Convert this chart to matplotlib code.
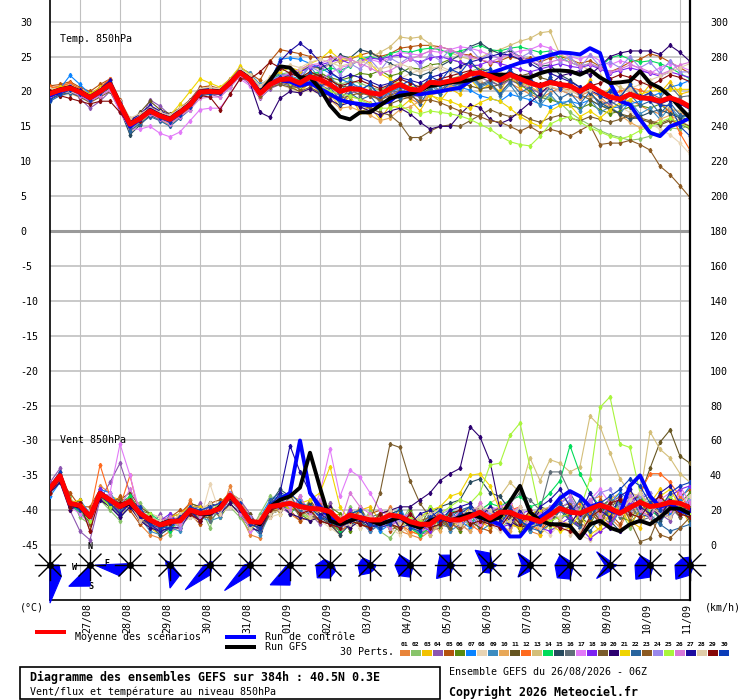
import numpy as np
import matplotlib.pyplot as plt
from matplotlib.patches import Polygon, Rectangle
from matplotlib.transforms import ScaledTranslation, blended_transform_factory

plt.rcParams['font.family'] = ['DejaVu Sans Mono']

# GEFS run 26/08/2026 06Z, one value every 6h up to 384h
hours = list(range(0, 385, 6))
day_hours = [18 + 24 * i for i in range(16)]
day_labels = ['27/08', '28/08', '29/08', '30/08', '31/08', '01/09', '02/09', '03/09',
              '04/09', '05/09', '06/09', '07/09', '08/09', '09/09', '10/09', '11/09']
rose_hours = hours[::4]

pert_colors = ['#e8843a', '#88c46a', '#f2c200', '#8c55b0', '#b4520e', '#5a8a10',
               '#0a84ff', '#e8d4b4', '#3c8cc0', '#e8a858', '#665520', '#ff6a1e',
               '#d4bf7a', '#00dc5a', '#264a5e', '#606e78', '#e27af8', '#7c22f2',
               '#7a5c2c', '#2c0070', '#f0d400', '#28649e', '#8c5a22', '#9a88ec',
               '#a8f53c', '#d878d8', '#1c0ca0', '#e0cca8', '#860808', '#0a3cb8']

# ---- temperature 850hPa (degC) ----
temp_mean = [19.7,20.2,20.5,19.9,19.1,20.0,21.0,18.1,15.3,16.1,17.2,16.5,16.0,
             17.0,18.1,19.9,20.0,19.9,21.2,22.7,21.7,19.7,21.0,21.7,21.8,21.2,
             22.1,21.7,21.0,20.0,20.4,20.3,19.8,19.6,20.4,21.0,20.3,20.2,21.3,
             21.2,21.5,21.8,22.5,22.7,22.2,21.6,22.4,21.8,21.2,20.8,21.3,21.0,
             20.8,20.0,20.9,20.0,19.2,18.9,19.6,19.1,19.0,18.6,19.1,18.6,17.8]
temp_ctrl = [19.4,20.0,20.6,19.8,19.0,20.0,21.2,18.0,15.0,16.0,17.4,16.6,16.0,
             17.0,18.2,20.0,20.0,19.8,21.2,22.8,21.8,19.8,21.0,21.6,21.4,20.8,
             21.2,20.4,19.6,18.8,18.4,18.2,18.0,18.2,18.6,19.8,19.8,19.6,19.8,
             20.0,20.3,20.5,21.5,22.3,22.6,23.1,23.6,24.1,24.4,24.8,25.2,25.6,
             25.5,25.3,26.2,25.5,21.2,18.6,18.1,16.0,14.1,13.6,15.0,15.5,16.2]
temp_gfs = [19.8,20.3,20.6,20.0,19.2,20.1,21.1,18.2,15.4,16.2,17.3,16.6,16.1,
            17.1,18.2,20.0,20.1,20.0,21.3,22.8,21.8,19.8,21.6,23.6,23.4,22.0,
            22.0,20.4,18.0,16.4,16.0,17.0,17.0,18.0,19.0,19.4,19.6,20.2,20.8,
            21.0,21.3,21.4,21.6,22.0,22.4,22.4,22.4,22.0,22.0,22.6,23.0,23.0,
            22.9,22.4,23.1,22.0,21.2,21.3,21.5,22.9,21.2,20.5,19.3,17.7,16.2]

t01 = [20.5,20.8,21.2,20.3,19.5,20.6,21.6,18.5,15.0,15.8,17.5,16.8,16.2,
       17.2,18.5,20.3,20.4,20.1,21.5,23.2,22.0,20.5,21.8,22.6,22.0,20.8,
       21.5,20.6,19.8,18.6,19.2,19.0,18.4,17.8,18.6,19.4,19.0,18.2,19.5,
       19.8,20.4,21.2,21.8,21.5,20.6,20.0,21.2,20.4,19.6,19.0,19.8,20.5,
       20.2,19.4,20.0,19.2,18.0,17.6,18.8,18.0,17.2,16.8,17.6,17.0,16.2]
t02 = [19.2,19.8,20.0,19.5,18.8,19.6,20.5,17.5,14.8,15.5,16.8,16.0,15.6,
       16.6,17.8,19.5,19.8,19.7,20.8,22.5,21.5,20.0,21.2,22.4,22.8,22.0,
       22.6,22.8,21.8,21.0,21.5,21.2,20.6,20.2,20.8,21.4,20.6,20.8,21.6,
       21.0,21.8,22.2,22.8,23.4,22.6,21.8,22.0,21.4,20.8,19.6,19.0,18.4,
       17.0,16.0,15.2,14.4,13.8,13.4,13.0,13.2,13.6,14.0,14.8,14.6,15.2]
t03 = [20.0,20.5,20.9,20.2,19.4,20.3,21.3,18.4,15.6,16.5,17.6,16.8,16.3,
       17.5,18.6,20.4,20.5,20.3,21.6,23.0,22.2,20.2,21.6,22.0,21.0,19.8,
       21.4,19.6,19.6,17.8,19.4,17.0,17.8,16.0,18.0,17.6,18.8,17.2,19.6,
       18.6,20.4,19.6,21.8,20.2,21.0,20.0,22.4,20.6,21.8,19.8,22.0,20.4,
       21.4,19.6,21.6,19.2,20.4,19.0,21.2,19.2,21.0,19.8,21.4,19.6,20.0]
t04 = [19.4,19.8,20.2,19.0,17.6,18.6,20.0,17.2,14.6,15.8,18.8,17.9,16.6,
       17.2,18.0,19.4,19.6,19.2,20.6,22.2,21.0,19.0,20.4,21.0,21.6,21.2,
       22.0,21.0,20.2,19.4,19.8,20.0,19.4,19.0,19.6,20.2,19.6,19.2,20.0,
       20.4,20.8,21.2,21.6,22.0,21.4,20.8,21.6,21.0,20.4,19.8,20.6,20.2,
       19.6,19.0,19.4,18.6,18.2,18.8,19.6,19.0,18.6,18.2,18.8,18.4,17.6]
t05 = [20.8,21.0,21.4,20.6,20.0,21.0,21.8,18.8,16.0,16.6,17.8,17.0,16.6,
       17.6,18.8,20.6,20.8,20.4,21.8,23.4,22.6,21.6,24.3,26.0,25.7,25.4,
       25.0,24.8,25.0,24.2,24.6,25.2,25.6,25.0,25.4,26.2,26.4,26.6,26.6,
       26.4,26.0,25.4,25.2,24.6,24.0,24.4,25.0,24.6,24.8,24.2,24.8,25.0,
       24.6,24.0,24.4,23.6,22.8,23.4,24.2,24.6,25.4,25.0,24.2,23.4,22.6]
t06 = [19.8,20.3,20.6,20.0,19.2,19.8,20.8,18.0,15.2,16.0,17.0,16.4,16.2,
       17.2,18.3,20.0,20.2,20.1,21.2,22.6,21.6,19.6,21.0,21.5,21.4,21.0,
       22.2,22.6,22.0,21.6,22.0,22.6,22.4,23.0,22.2,22.6,23.4,23.2,23.8,
       24.0,24.6,24.2,23.8,23.2,23.0,22.6,21.8,21.0,20.0,19.2,18.8,18.4,
       18.0,17.6,18.2,17.4,16.8,17.2,17.8,18.0,17.6,18.2,17.0,16.4,15.8]
t07 = [19.2,20.4,22.3,21.0,19.6,20.4,21.4,18.2,15.2,16.0,17.1,16.4,15.8,
       16.8,17.9,19.6,19.8,19.8,21.0,22.4,21.4,19.6,21.4,24.6,24.8,24.6,
       24.0,23.4,22.6,21.8,21.2,20.6,19.8,19.2,19.8,20.6,20.0,19.6,20.4,
       20.8,21.0,20.6,20.2,19.4,19.0,18.6,19.6,19.2,18.8,18.2,17.8,18.4,
       18.6,18.2,18.8,18.0,17.6,17.8,18.2,18.6,19.2,19.8,20.6,21.0,21.6]
t08 = [19.0,19.4,19.6,19.2,18.6,19.4,20.2,17.8,15.4,16.2,17.4,16.6,16.0,
       17.2,18.4,20.2,20.4,20.4,21.6,22.8,21.8,20.4,21.2,21.0,20.4,19.8,
       20.2,19.6,19.0,18.6,19.4,19.8,20.2,19.6,20.6,21.8,22.6,23.0,23.6,
       23.2,22.8,23.4,24.0,23.6,22.8,22.4,22.8,22.2,21.6,21.0,21.4,21.0,
       20.4,19.8,20.2,19.4,18.6,17.8,17.0,16.2,15.4,14.6,13.8,12.6,11.0]
t09 = [19.6,20.0,20.4,19.8,19.0,19.9,20.9,18.0,15.0,15.8,16.9,16.2,15.8,
       16.9,18.0,19.8,19.9,19.8,21.0,23.4,22.6,21.0,21.8,22.6,22.2,21.8,
       23.6,21.8,22.4,20.0,21.6,20.2,21.0,19.0,20.4,20.2,21.0,19.4,21.2,
       19.6,21.2,20.4,22.0,20.6,21.2,19.4,21.0,19.0,19.6,18.0,19.6,18.0,
       18.8,17.2,19.0,17.0,17.8,16.8,18.6,16.8,17.6,16.0,17.8,16.2,16.6]
t10 = [20.2,20.6,20.9,20.0,19.3,20.3,21.4,17.6,14.2,15.4,16.6,15.9,15.2,
       16.4,17.6,19.4,19.7,19.6,20.9,22.4,21.2,19.2,20.6,21.2,21.0,20.4,
       21.2,20.0,18.8,17.6,17.8,17.2,16.6,15.8,16.2,17.4,17.8,18.6,19.6,
       20.0,20.8,21.6,22.0,22.4,21.8,21.2,21.8,21.2,20.6,20.0,20.6,20.2,
       19.6,19.0,19.4,18.6,17.8,16.6,15.6,14.8,15.2,16.0,16.6,15.8,15.0]
t11 = [19.4,19.8,20.2,19.6,18.8,19.6,20.6,17.8,15.6,17.0,18.6,17.4,16.8,
       17.6,18.6,20.2,20.2,20.0,21.2,22.6,21.4,19.8,21.0,21.6,21.8,21.4,
       22.2,22.4,21.6,20.8,20.6,20.2,19.6,18.8,18.2,18.8,19.2,19.6,20.4,
       21.0,21.4,21.2,20.8,20.4,20.6,21.0,21.8,22.2,22.6,22.0,21.6,21.2,
       20.6,19.6,18.8,18.0,17.4,16.8,16.4,16.0,15.6,15.2,15.8,15.4,14.6]
t12 = [20.6,20.6,21.2,20.4,19.6,20.6,21.8,18.2,15.4,16.2,17.4,16.6,16.2,
       17.2,18.2,20.0,20.0,19.8,21.2,22.8,21.8,20.0,21.4,22.0,21.6,21.0,
       21.8,21.2,20.6,19.8,20.2,20.4,20.0,19.4,20.0,20.8,20.4,20.2,21.2,
       21.4,21.6,22.0,22.6,22.6,22.0,21.4,22.2,21.6,21.0,20.4,21.0,20.8,
       20.4,19.8,20.4,19.8,19.4,20.0,20.6,20.2,19.6,18.6,17.0,14.0,11.6]
t13 = [19.6,20.0,20.3,19.7,19.0,19.8,20.8,18.0,15.2,16.0,17.0,16.4,15.8,
       17.0,18.2,20.2,20.2,20.1,21.3,22.6,21.6,19.8,21.2,22.0,22.6,23.0,
       23.6,23.2,23.8,24.4,24.6,24.0,24.8,25.6,26.4,27.8,27.6,27.8,26.8,
       25.8,25.6,25.0,24.6,24.8,25.6,26.0,26.6,27.2,27.6,28.4,28.6,25.3,
       24.6,23.8,23.0,22.2,21.4,20.6,20.0,19.6,19.0,18.4,17.6,17.2,16.8]
t14 = [19.8,20.2,20.6,20.0,19.2,20.0,21.0,18.0,15.0,16.0,17.2,16.6,16.0,
       17.2,18.2,20.0,20.1,19.9,21.2,22.6,21.8,20.2,21.6,22.4,22.0,21.6,
       22.4,22.8,23.4,23.0,23.6,24.6,25.0,24.6,25.4,25.8,25.6,26.0,26.2,
       26.0,25.4,25.8,26.2,26.6,26.0,25.8,26.2,26.4,26.0,25.6,25.8,24.8,
       24.2,23.6,24.0,23.4,24.8,25.2,24.6,24.2,24.4,24.0,23.4,22.6,21.8]
t15 = [19.3,19.9,20.2,19.6,18.9,19.8,20.6,17.4,13.8,15.2,16.6,16.0,15.6,
       16.8,18.0,19.8,20.0,20.0,21.4,23.0,21.6,19.8,21.0,21.8,22.4,22.8,
       23.6,23.4,24.0,25.2,24.8,26.0,25.6,24.8,24.0,23.4,22.6,22.2,22.8,
       23.6,24.4,25.2,26.4,27.0,26.0,25.4,25.8,25.0,24.4,23.6,23.8,22.4,
       21.6,20.6,19.8,18.4,17.6,16.8,16.0,16.4,17.0,17.4,16.8,16.2,17.0]
t16 = [19.5,20.0,20.4,19.8,19.0,19.9,20.8,18.0,15.4,16.2,17.2,16.6,16.1,
       17.0,18.1,19.8,19.9,19.8,21.1,22.6,21.6,19.6,20.8,21.2,20.8,20.4,
       21.6,20.0,20.6,18.8,20.4,19.4,20.2,18.4,20.2,19.8,20.6,19.2,21.4,
       20.0,21.6,21.0,22.6,21.0,21.6,20.8,22.6,21.0,21.8,20.2,22.0,20.4,
       21.2,19.6,21.2,19.4,20.0,19.2,20.8,19.0,19.8,19.0,20.8,19.2,19.4]
t17 = [19.6,20.0,20.2,19.4,18.6,19.4,20.2,17.0,14.6,14.6,15.0,14.0,13.5,
       14.2,15.8,17.4,17.6,17.6,19.6,21.8,20.8,19.2,20.6,21.4,21.0,20.6,
       21.6,21.6,22.6,23.4,23.8,24.4,24.6,24.2,24.8,25.6,25.4,25.2,25.8,
       25.6,26.0,26.4,26.2,25.8,25.2,24.8,25.4,25.8,26.0,26.6,26.2,25.6,
       25.0,24.6,25.2,24.4,23.8,24.4,24.0,23.2,22.6,23.4,24.0,23.6,23.0]
t18 = [20.0,20.4,20.8,20.2,19.4,20.2,21.2,18.4,15.6,16.6,17.8,17.0,16.4,
       17.4,18.4,20.0,20.2,20.2,21.6,23.0,22.0,20.6,21.6,22.2,22.4,22.8,
       23.4,23.8,24.2,24.6,24.0,24.4,24.8,24.6,25.0,25.2,24.6,24.2,24.8,
       25.0,24.6,24.2,23.6,23.8,24.4,24.0,23.6,23.2,22.8,23.2,23.6,24.0,
       23.6,23.4,23.8,23.2,22.6,23.0,23.4,23.0,22.6,22.2,22.8,22.4,22.0]
t19 = [19.0,19.6,19.8,19.2,18.4,19.2,20.0,17.6,15.2,16.4,17.6,16.8,16.2,
       17.0,18.0,19.6,19.8,19.8,21.0,22.4,21.2,19.4,20.6,21.0,20.6,20.0,
       20.6,19.8,19.4,18.8,18.6,18.0,17.6,17.0,16.6,15.4,13.4,13.4,14.3,
       15.0,15.2,15.0,15.8,16.6,17.4,16.8,16.4,16.8,16.0,15.6,16.2,16.6,
       16.2,15.8,16.4,16.0,15.6,16.0,16.6,16.2,15.8,15.4,16.0,15.6,15.0]
t20 = [19.4,19.8,20.2,19.6,18.8,19.6,20.6,17.8,15.4,16.2,17.2,16.4,15.8,
       16.8,17.8,19.6,19.8,19.8,21.0,22.4,21.2,17.0,16.3,19.0,20.0,19.8,
       20.4,19.6,18.8,18.0,18.4,17.8,17.2,16.6,17.2,17.6,16.8,15.6,14.6,
       15.0,15.0,16.7,18.1,17.7,16.0,15.4,16.0,17.2,18.4,19.6,21.0,22.2,
       22.6,23.0,22.4,23.6,25.0,25.5,25.8,25.8,25.8,25.3,26.6,25.6,24.3]
t21 = [20.2,20.6,20.8,20.2,19.6,20.6,21.4,18.2,15.4,16.6,17.8,17.0,16.6,
       18.2,20.0,21.8,21.2,20.6,21.8,23.6,22.4,20.6,22.0,22.8,23.4,23.0,
       24.0,24.6,25.8,24.6,24.8,25.2,24.0,22.6,21.8,21.0,20.6,20.0,19.4,
       19.0,18.6,18.0,17.6,18.4,19.0,18.6,17.6,16.4,15.6,15.0,17.2,18.0,
       18.0,16.4,17.2,16.2,17.4,18.4,18.8,19.6,20.0,20.2,20.3,20.3,20.3]
t22 = [18.6,19.4,19.8,19.4,18.6,19.6,20.6,17.6,14.4,15.4,16.4,15.8,15.0,
       16.2,17.4,19.4,19.6,19.6,21.0,22.8,21.8,20.0,21.2,21.8,21.4,20.6,
       21.8,19.8,20.2,18.2,19.8,18.8,19.4,17.6,19.4,19.0,19.8,18.2,20.4,
       19.6,21.4,20.8,22.4,20.8,21.4,19.6,21.4,19.8,20.6,18.8,20.6,19.0,
       19.8,18.2,20.0,18.0,18.6,17.8,19.6,18.0,18.6,16.8,18.4,16.6,16.4]
t23 = [19.8,20.2,20.4,19.8,19.0,20.0,21.0,18.2,15.6,16.4,17.4,16.6,16.0,
       17.0,18.0,19.8,20.0,19.8,21.0,22.4,21.4,19.4,20.8,21.4,21.0,20.4,
       21.0,20.4,19.6,19.0,19.4,19.8,19.4,18.8,19.4,20.0,19.4,18.6,18.8,
       18.4,17.8,17.2,16.8,16.4,15.8,15.6,15.0,14.3,15.0,14.1,14.6,14.2,
       13.6,14.4,15.2,12.4,12.6,12.6,13.0,12.4,11.6,9.3,8.1,6.5,4.8]
t24 = [19.8,20.4,20.8,20.2,19.4,20.2,21.2,18.4,15.8,16.6,17.6,17.0,16.4,
       17.4,18.4,20.2,20.3,20.2,21.4,22.8,22.0,20.6,21.6,22.2,22.6,22.2,
       23.6,22.8,24.2,22.4,24.0,23.2,24.6,23.0,24.8,24.0,25.0,23.6,25.4,
       24.4,26.0,25.2,26.2,24.6,25.4,24.6,26.2,24.8,25.6,24.0,25.6,24.2,
       25.0,23.4,25.2,23.6,24.2,23.4,25.0,23.4,24.2,22.6,24.4,22.8,22.8]
t25 = [19.6,20.0,20.4,19.8,19.0,19.8,20.8,18.0,15.2,16.0,17.0,16.4,15.9,
       17.0,18.0,19.8,20.0,19.8,21.0,22.4,21.4,19.8,21.0,21.6,21.2,20.8,
       21.4,20.8,20.0,19.6,19.4,18.8,18.2,17.6,17.6,18.0,17.2,16.8,17.2,
       17.0,16.8,16.5,16.0,15.3,14.6,13.6,12.8,12.4,12.2,13.6,15.3,16.0,
       16.4,15.6,14.8,14.2,13.6,13.2,13.6,14.4,15.0,15.6,16.2,15.4,14.8]
t26 = [19.4,19.8,20.0,19.4,18.6,19.4,20.2,17.4,15.0,15.8,16.8,16.0,15.4,
       16.4,17.4,19.0,19.2,19.2,20.6,22.2,21.2,19.8,21.2,22.0,22.6,23.2,
       23.8,24.0,24.6,25.0,24.6,24.0,23.4,22.6,23.0,23.8,24.6,25.2,25.8,
       26.4,26.0,25.4,25.0,24.6,24.2,24.8,25.4,25.0,24.4,23.8,24.2,24.6,
       24.2,23.6,24.0,23.4,22.8,23.2,23.8,23.4,22.8,22.4,23.0,23.8,24.2]
t27 = [19.6,20.2,20.6,20.2,19.4,20.4,21.6,18.6,15.8,16.8,18.0,17.2,16.6,
       17.4,18.6,20.4,20.4,20.2,21.6,23.2,22.0,20.0,21.6,24.3,25.8,26.9,
       25.8,24.2,22.8,21.8,22.4,22.0,21.4,20.8,21.2,22.0,21.6,21.2,22.0,
       22.4,23.0,23.6,24.2,24.6,25.0,25.4,25.2,24.6,24.0,23.2,22.6,22.0,
       21.4,20.6,20.2,19.4,18.8,19.2,19.8,19.4,18.8,18.2,18.8,18.2,17.4]
t28 = [20.4,20.4,20.0,19.6,19.4,20.4,21.0,18.6,16.2,16.8,17.6,17.0,16.6,
       17.6,18.6,20.4,20.6,20.4,21.6,23.2,22.4,20.8,22.0,23.2,23.8,23.4,
       24.2,24.6,24.2,23.6,24.0,24.4,23.8,23.2,23.6,24.0,23.4,22.8,23.2,
       23.6,23.0,22.4,22.0,21.6,22.2,22.8,22.2,21.6,21.0,20.4,20.8,20.2,
       20.0,19.6,20.2,19.8,19.2,19.6,20.4,21.0,21.6,22.2,22.8,23.4,24.0]
t29 = [20.0,19.4,19.0,18.6,18.2,18.6,18.6,17.0,15.0,15.8,17.0,16.6,16.2,
       17.0,18.0,19.4,19.2,17.4,19.6,21.8,21.8,22.8,24.2,23.4,22.6,22.0,
       22.8,22.2,21.6,20.8,21.2,21.6,21.0,20.4,21.0,21.8,21.2,20.6,21.4,
       21.8,22.2,22.6,23.0,22.4,21.8,22.2,22.8,22.2,21.6,21.0,21.6,21.2,
       20.8,20.2,20.8,21.2,21.8,22.4,22.0,21.4,20.8,21.6,22.4,22.0,21.4]
t30 = [18.8,19.6,20.2,19.6,18.8,19.8,21.2,18.4,15.0,16.0,17.0,16.2,15.6,
       16.6,17.8,19.6,19.8,19.8,21.2,22.8,21.8,20.2,21.4,22.0,21.8,21.4,
       22.6,20.8,21.2,19.4,21.0,20.2,21.0,19.4,21.2,20.8,21.6,20.0,22.2,
       21.4,23.2,22.6,24.4,22.8,23.2,21.4,23.2,21.4,22.0,20.2,22.0,20.4,
       21.2,19.4,21.2,19.4,20.0,19.2,21.0,19.2,19.8,18.0,18.0,15.0,13.6]

# ---- wind 850hPa (km/h) ----
wind_mean = [32.6,39.8,24.0,22.7,16.4,29.7,25.9,22.1,25.0,18.3,14.5,11.6,13.5,
             13.9,20.2,18.3,18.9,21.1,28.7,22.1,13.5,13.1,22.1,23.0,24.0,22.1,
             21.1,20.7,19.2,13.9,17.3,15.8,14.5,14.5,17.3,16.4,13.5,12.0,12.0,
             16.4,14.5,14.5,16.4,18.9,15.4,18.9,18.9,16.4,15.4,13.5,17.3,21.1,
             18.9,18.3,20.7,23.0,21.1,18.3,21.5,24.6,22.1,23.0,24.6,24.0,21.5]
wind_ctrl = [32,40,24,22,16,30,26,22,24,18,14,12,14,
             14,20,18,18,22,28,22,14,12,22,26,30,60,
             30,22,16,12,14,16,14,12,14,16,12,10,14,
             16,14,16,18,16,14,12,5,5,12,16,20,27,
             31,28,22,24,20,18,34,40,28,22,24,20,18]
wind_gfs = [32,40,24,22,16,30,26,22,24,18,14,12,14,
            14,20,18,18,22,28,22,14,12,22,26,28,33,
            53,33,14,12,14,16,14,12,14,16,12,10,14,
            16,14,16,18,16,14,16,25,34,19,14,12,12,
            11,4,12,14,10,8,12,14,12,16,21,21,18]

w01 = [30,38,20,26,8,34,30,16,28,12,6,4,8, 10,26,12,24,16,34,18,6,4,22,28,18,14,
       16,26,12,6,14,22,8,12,22,8,6,4,8, 12,20,8,14,24,10,18,26,12,8,6,22,26,
       14,10,26,28,16,10,22,30,16,28,20,32,18]
w02 = [34,42,28,16,12,26,20,14,26,24,18,16,6, 18,24,22,10,26,22,16,8,18,28,18,30,18,
       26,16,24,8,22,10,20,8,4,12,22,8,18, 10,18,20,10,22,16,10,14,22,8,20,10,28,
       24,12,22,16,28,20,10,22,26,16,28,20,16]
w03 = [32,40,22,24,18,30,28,26,20,22,10,6,18, 12,22,14,22,24,30,26,16,8,26,18,28,26,
       20,22,16,18,10,20,22,14,12,20,8,6,12, 20,10,14,22,14,10,24,16,8,18,6,12,20,
       22,24,14,8,26,30,14,10,24,32,16,22,12]
w04 = [36,44,20,8,3,26,36,47,30,16,10,18,10, 18,18,24,16,22,24,26,18,10,24,22,18,28,
       18,12,24,10,20,14,8,12,20,14,12,6,8, 10,20,12,8,18,22,20,10,18,8,18,22,14,
       20,22,26,18,12,24,16,26,30,18,14,26,20]
w05 = [30,36,30,22,22,32,22,28,20,12,16,14,16, 20,18,12,24,26,26,24,10,16,16,28,20,14,
       26,18,12,8,20,12,18,20,8,12,18,12,6, 18,8,20,14,10,8,20,12,10,20,8,14,24,
       16,10,14,26,18,12,24,16,18,26,16,28,32]
w06 = [32,40,24,18,16,26,22,18,28,20,18,8,10, 12,16,20,22,16,24,18,16,10,18,20,26,18,
       14,24,22,18,8,22,12,18,20,10,20,10,22, 10,14,8,20,12,22,14,20,8,12,22,20,14,
       24,16,12,22,26,16,14,24,28,18,16,24,30]
w07 = [28,36,22,26,18,32,30,22,24,22,12,8,18, 10,20,22,16,24,30,26,10,16,26,28,18,26,
       18,24,16,10,18,20,14,8,12,22,10,8,18, 12,20,14,10,20,14,10,22,14,8,14,20,24,
       28,18,26,16,24,30,26,16,24,28,18,26,34]
w08 = [30,38,26,24,18,28,24,18,26,22,18,16,10, 12,16,14,35,18,22,18,12,10,16,18,24,16,
       22,14,10,6,14,10,12,18,10,6,12,8,18, 20,12,18,22,20,12,8,14,12,20,10,6,12,
       10,6,3,10,18,22,26,16,12,22,28,20,18]
w09 = [34,38,22,20,12,26,24,16,22,16,8,6,10, 8,20,16,14,16,28,20,12,6,18,20,26,18,
       16,20,14,8,12,14,8,12,18,20,12,6,10, 18,8,12,20,8,12,18,12,20,8,18,12,20,
       22,14,24,16,10,20,24,28,18,12,24,16,26]
w10 = [32,42,26,22,18,30,26,24,22,14,14,8,16, 10,18,20,24,18,30,26,10,16,24,26,18,24,
       16,14,22,12,20,12,18,10,20,12,6,10,12, 8,18,12,8,14,20,12,8,18,12,20,22,14,
       12,20,24,18,14,26,16,24,28,16,26,18,16]
w11 = [30,38,22,26,16,28,22,26,30,22,18,10,16, 18,24,22,16,24,26,20,18,8,18,20,26,16,
       24,18,20,10,14,20,12,18,12,8,18,8,12, 18,10,20,14,10,18,22,16,10,18,20,12,22,
       16,12,22,24,16,22,26,28,44,59,66,51,47]
w12 = [30,38,20,24,18,46,28,22,40,16,12,10,12, 18,24,16,22,24,30,18,12,10,24,26,20,22,
       16,24,14,8,12,20,10,18,20,12,8,6,16, 18,12,20,12,8,18,12,20,22,12,8,18,22,
       20,24,18,14,12,22,26,30,41,41,36,28,22]
w13 = [32,40,24,22,14,28,24,18,24,16,12,14,12, 12,20,16,22,24,28,24,12,14,18,22,26,22,
       16,22,14,16,14,12,10,16,14,8,16,10,6, 12,18,20,22,20,24,28,36,30,50,37,49,47,
       42,45,74,68,53,38,30,28,65,55,50,41,36]
w14 = [34,40,24,18,14,30,22,24,28,16,18,14,8, 16,22,16,16,24,28,18,10,14,22,26,18,24,
       22,16,14,8,18,20,12,18,10,16,10,6,10, 12,20,18,12,20,24,22,26,28,22,24,30,37,
       57,41,30,22,16,26,18,28,20,16,26,18,28]
w15 = [32,40,22,24,18,30,26,18,26,22,12,6,10, 10,20,14,24,22,28,26,10,8,24,32,28,18,
       24,16,12,6,12,14,10,12,18,20,10,16,18, 22,24,26,36,38,30,28,20,16,14,12,20,22,
       14,12,20,24,14,8,12,20,24,14,20,22,14]
w16 = [32,38,24,20,14,28,26,24,24,14,12,8,14, 16,22,20,14,20,28,22,16,10,24,26,22,18,
       20,22,12,14,16,14,16,18,12,10,16,8,10, 12,10,20,18,12,22,18,24,30,26,20,42,42,
       30,20,16,22,26,16,24,14,16,24,22,16,22]
w17 = [34,40,22,18,12,26,30,58,40,18,12,8,10, 10,18,14,20,18,28,26,8,10,24,28,22,24,
       16,30,55,28,43,39,30,20,16,10,16,8,10, 18,12,10,18,12,20,22,24,14,12,20,14,22,
       24,16,26,32,24,18,26,20,16,28,20,30,22]
w18 = [32,38,22,24,18,32,26,18,24,20,12,14,18, 12,22,22,16,22,28,24,16,8,26,20,28,20,
       22,16,18,12,20,12,10,18,12,14,18,12,8, 20,14,12,20,22,14,10,12,18,20,10,8,12,
       16,10,4,8,12,20,24,30,22,18,28,32,34]
w19 = [30,38,24,22,14,30,24,20,26,18,16,12,14, 12,20,16,22,24,28,22,12,14,18,26,20,22,
       16,22,14,10,18,20,14,30,58,56,37,24,16, 14,10,16,18,22,14,12,20,14,10,12,18,20,
       22,14,20,12,22,26,14,2,4,18,24,16,22]
w20 = [30,36,20,24,16,26,22,16,22,14,10,8,10, 10,18,14,20,18,24,18,10,8,20,24,18,16,
       14,16,22,12,10,14,12,18,20,22,22,26,30, 37,41,44,68,62,48,20,14,10,12,20,14,10,
       12,20,22,14,10,8,12,20,24,16,26,18,24]
w21 = [32,38,24,26,16,28,24,22,24,18,12,10,16, 18,22,22,16,24,30,22,10,12,24,26,20,24,
       26,30,45,22,14,12,10,12,18,10,12,16,20, 22,28,30,40,41,34,20,12,10,18,20,12,8,
       10,18,6,10,18,22,12,20,24,28,32,22,18]
w22 = [34,40,24,20,14,30,28,20,24,18,16,12,10, 14,20,20,22,20,30,24,14,8,26,30,28,20,
       18,14,12,10,18,20,12,10,12,18,14,10,18, 12,16,20,22,14,12,20,22,14,10,8,12,20,
       14,10,8,16,20,24,28,18,16,12,8,10,12]
w23 = [32,40,22,24,12,30,26,26,26,16,12,14,16, 12,20,16,16,24,28,22,16,10,20,20,28,18,
       18,14,12,10,18,12,10,18,12,10,12,14,16, 14,12,10,18,20,12,18,20,12,10,18,12,22,
       24,16,22,14,24,28,20,26,16,6,4,10,16]
w24 = [32,40,24,22,18,30,26,22,24,20,16,8,14, 10,20,20,22,18,30,24,16,10,22,24,26,18,
       22,16,18,10,12,18,16,14,12,14,18,12,10, 18,20,12,14,20,18,12,18,20,12,14,22,20,
       26,16,24,30,32,22,18,28,30,20,16,22,26]
w25 = [30,40,26,20,14,28,22,24,26,16,18,10,14, 12,22,16,20,24,28,20,12,14,24,22,24,18,
       16,22,14,12,18,20,12,18,12,10,16,14,22, 18,22,26,24,30,46,47,63,70,45,18,14,16,
       18,20,38,79,85,58,56,30,20,24,28,22,18]
w26 = [30,38,24,22,16,30,28,22,32,22,12,14,16, 12,22,16,22,24,28,18,10,14,24,22,20,28,
       18,26,16,12,30,22,18,12,10,16,18,12,10, 18,12,20,14,24,16,12,18,22,12,18,16,24,
       28,18,26,16,24,18,28,20,16,26,30,34,24]
w27 = [32,40,22,24,16,28,24,18,24,16,12,8,10, 16,20,14,20,18,28,20,12,14,22,30,57,42,
       30,18,14,10,12,18,10,12,18,10,12,18,20, 14,20,22,24,16,22,14,12,20,14,22,26,32,
       22,18,30,20,16,28,32,22,18,30,34,24,20]
w28 = [34,40,24,22,16,30,26,24,24,14,16,14,12, 18,20,20,24,18,28,26,10,16,18,20,26,22,
       16,20,20,10,12,18,16,14,20,12,10,16,18, 20,14,12,20,22,20,12,14,22,12,10,18,16,
       6,8,16,20,24,18,26,30,22,18,16,24,28]
w29 = [30,38,22,24,8,28,26,24,26,18,16,10,12, 16,18,14,20,22,28,22,12,10,20,22,24,18,
       20,14,12,10,14,12,10,18,12,10,18,12,10, 12,18,20,12,14,12,10,18,12,20,14,12,10,
       8,6,16,20,24,26,18,16,24,28,22,18,16]
w30 = [34,42,24,20,18,30,24,22,24,22,12,10,10, 16,22,20,22,24,28,24,12,10,24,28,30,24,
       22,16,14,12,18,20,12,10,12,18,10,8,16, 20,12,18,22,16,14,12,20,14,10,12,20,24,
       18,26,16,24,28,32,38,34,24,20,30,34,36]

# wind roses (one per day at 06Z), sector frequencies
rose_n  = [0, 0, 0, 3, 4, 4, 3, 3, 4, 4, 10, 12, 4, 4, 4, 4, 8]
rose_ne = [0, 0, 0, 1, 4, 3, 3, 2, 2, 2, 2, 3, 2, 2, 2, 2, 3]
rose_e  = [9, 0, 0, 2, 2, 2, 1, 4, 6, 3, 5, 7, 3, 4, 7, 3, 3]
rose_se = [16, 0, 0, 14, 3, 2, 1, 8, 6, 4, 4, 4, 3, 4, 4, 4, 4]
rose_s  = [38, 21, 0, 23, 10, 10, 20, 13, 8, 12, 10, 8, 6, 14, 6, 12, 10]
rose_sw = [0, 30, 15, 3, 35, 36, 28, 18, 14, 15, 19, 10, 17, 18, 19, 20, 20]
rose_w  = [0, 0, 35, 4, 6, 6, 3, 14, 12, 15, 12, 8, 8, 15, 5, 15, 15]
rose_nw = [0, 0, 2, 6, 2, 2, 1, 8, 10, 14, 14, 21, 17, 14, 19, 13, 10]

temp_members = [t01, t02, t03, t04, t05, t06, t07, t08, t09, t10, t11, t12, t13, t14, t15,
                t16, t17, t18, t19, t20, t21, t22, t23, t24, t25, t26, t27, t28, t29, t30]
wind_members = [w01, w02, w03, w04, w05, w06, w07, w08, w09, w10, w11, w12, w13, w14, w15,
                w16, w17, w18, w19, w20, w21, w22, w23, w24, w25, w26, w27, w28, w29, w30]

W, H = 740, 700
fs = 7.2


def fxy(x, y):
    return x / W, 1 - y / H


fig = plt.figure(figsize=(W / 100, H / 100), dpi=100)
ax = fig.add_axes([50 / W, 100 / H, 640 / W, 600 / H])
ylo, yhi = -52.85, 33.1
ax.set_xlim(0, 384)
ax.set_ylim(ylo, yhi)
ax2 = ax.twinx()
ax2.set_ylim(4 * ylo + 180, 4 * yhi + 180)   # right scale in km/h
ax2.set_xlim(0, 384)

ax.set_yticks(range(-45, 31, 5))
ax.set_yticklabels([str(v) for v in range(-45, 31, 5)])
ax.set_xticks(day_hours)
ax.set_xticklabels([])
ax.tick_params(axis='both', length=0, labelsize=fs)
ax.tick_params(axis='y', pad=21.6)
for lab in ax.get_yticklabels():
    lab.set_horizontalalignment('left')
ax.grid(True, axis='y', color='#c0c0c0', lw=1.2)
ax.grid(True, axis='x', color='#c0c0c0', lw=0.8)
ax.set_axisbelow(True)
ax.axhline(0, color='#9a9a9a', lw=2.2, zorder=1)

ax2.set_yticks(range(0, 301, 20))
ax2.tick_params(axis='y', length=0, pad=14.4, labelsize=fs)

for a in (ax, ax2):
    a.spines['top'].set_visible(False)
ax.spines['right'].set_visible(False)
ax2.spines['left'].set_visible(False)
ax2.spines['bottom'].set_visible(False)
ax.spines['left'].set_linewidth(1.2)
ax.spines['bottom'].set_linewidth(1.2)
ax2.spines['right'].set_linewidth(1.6)

# spaghetti
for ts, c in zip(temp_members, pert_colors):
    ax.plot(hours, ts, color=c, lw=0.8, marker='d', ms=2.2, zorder=3)
ax.plot(hours, temp_ctrl, color='#0000ff', lw=2.8, zorder=4)
ax.plot(hours, temp_gfs, color='black', lw=2.8, zorder=4)
ax.plot(hours, temp_mean, color='#ff0000', lw=3.6, zorder=5)

for ws, c in zip(wind_members, pert_colors):
    ax2.plot(hours, ws, color=c, lw=0.8, marker='d', ms=2.2, zorder=3)
ax2.plot(hours, wind_ctrl, color='#0000ff', lw=2.8, zorder=4)
ax2.plot(hours, wind_gfs, color='black', lw=2.8, zorder=4)
ax2.plot(hours, wind_mean, color='#ff0000', lw=3.6, zorder=5)

ax.text(6, 27.5, 'Temp. 850hPa', fontsize=fs, va='center')
ax.text(6, -29.9, 'Vent 850hPa', fontsize=fs, va='center')

# wind roses
rose_y = -47.85
ang = np.deg2rad([0, 45, 90, 135, 180, 225, 270, 315])
for j, h in enumerate(rose_hours):
    tr = fig.dpi_scale_trans + ScaledTranslation(h, rose_y, ax.transData)
    rr = [rose_n[j], rose_ne[j], rose_e[j], rose_se[j],
          rose_s[j], rose_sw[j], rose_w[j], rose_nw[j]]
    verts = [(r * np.sin(a) / 100, r * np.cos(a) / 100) for r, a in zip(rr, ang)]
    ax.add_patch(Polygon(verts, closed=True, facecolor='#0000ff', edgecolor='#0000ff',
                         lw=0.8, transform=tr, zorder=6, clip_on=False))
    for dx, dy in [(0.15, 0), (0, 0.15), (0.11, 0.11), (0.11, -0.11)]:
        ax.plot([-dx, dx], [-dy, dy], color='black', lw=1.0, transform=tr,
                zorder=7, clip_on=False)
    ax.plot([0], [0], 'o', color='black', ms=4, transform=tr, zorder=8, clip_on=False)
    if j == 1:
        for lx, ly, ll in [(0, 0.19, 'N'), (-0.15, -0.02, 'W'), (0.007, -0.21, 'S'),
                           (0.17, 0.02, 'E')]:
            ax.text(lx, ly, ll, transform=tr, fontsize=6, fontweight='bold',
                    ha='center', va='center', zorder=5)

# date labels
lab_tr = blended_transform_factory(ax.transData, ax.transAxes) + \
    ScaledTranslation(0.07, -0.03, fig.dpi_scale_trans)
for h, lab in zip(day_hours, day_labels):
    ax.text(h, 0, lab, transform=lab_tr, rotation=90, ha='center', va='top', fontsize=fs)

fig.text(*fxy(20, 607), '(°C)', fontsize=fs, va='center')
fig.text(*fxy(705, 607), '(km/h)', fontsize=fs, va='center')

# legend
for x0, y0, c in [(35, 631.5, '#ff0000'), (225, 636.5, '#0000ff'), (225, 646.5, 'black')]:
    fig.add_artist(Rectangle(fxy(x0, y0 + 2), 31 / W, 4 / H, facecolor=c,
                             edgecolor='none', transform=fig.transFigure))
fig.text(*fxy(75, 637), 'Moyenne des scénarios', fontsize=fs, va='center')
fig.text(*fxy(265, 637), 'Run de contrôle', fontsize=fs, va='center')
fig.text(*fxy(265, 647), 'Run GFS', fontsize=fs, va='center')
fig.text(*fxy(340, 652), '30 Perts.', fontsize=fs, va='center')
for i, c in enumerate(pert_colors):
    x0 = 400 + 11 * i
    fig.add_artist(Rectangle(fxy(x0, 656), 10 / W, 6 / H, facecolor=c,
                             edgecolor='none', transform=fig.transFigure))
    fig.text(*fxy(x0 + 5, 644), '%02d' % (i + 1), fontsize=4.6, fontweight='bold',
             ha='center', va='center')

fig.add_artist(Rectangle(fxy(20, 699), 420 / W, 32 / H, facecolor='none',
                         edgecolor='black', lw=1.2, transform=fig.transFigure))
fig.text(*fxy(30, 677), 'Diagramme des ensembles GEFS sur 384h : 40.5N 0.3E',
         fontsize=8.4, fontweight='bold', va='center')
fig.text(*fxy(30, 692), 'Vent/flux et température au niveau 850hPa', fontsize=fs,
         va='center')
fig.text(*fxy(449, 672), 'Ensemble GEFS du 26/08/2026 - 06Z', fontsize=fs, va='center')
fig.text(*fxy(449, 692), 'Copyright 2026 Meteociel.fr', fontsize=8.4,
         fontweight='bold', va='center')

fig.savefig('out.png', dpi=100)
